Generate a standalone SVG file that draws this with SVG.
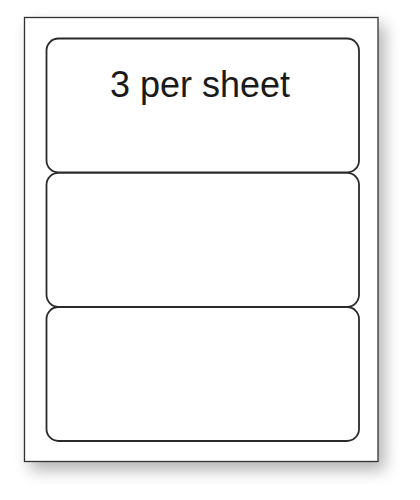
<svg xmlns="http://www.w3.org/2000/svg" width="420" height="500" viewBox="0 0 420 500">
  <defs>
    <filter id="shadow" x="-10%" y="-10%" width="130%" height="130%">
      <feGaussianBlur in="SourceAlpha" stdDeviation="8"/>
      <feOffset dx="6" dy="8" result="b"/>
      <feComponentTransfer><feFuncA type="linear" slope="0.3"/></feComponentTransfer>
      <feMerge><feMergeNode/><feMergeNode in="SourceGraphic"/></feMerge>
    </filter>
  </defs>
  <style>
    .label { fill: #ffffff; stroke: #2a2a2a; stroke-width: 1.8; }
    .sheet { fill: #ffffff; stroke: #333333; stroke-width: 1.3; }
    .txt { font-family: "Liberation Sans", Arial, sans-serif; font-size: 36px; fill: #1a1a1a; }
  </style>
  <rect width="420" height="500" fill="#ffffff"/>
  <g id="sheet">
    <rect class="sheet" x="24.5" y="17.5" width="353.5" height="444" filter="url(#shadow)"/>
  </g>
  <g id="label1">
    <rect class="label" x="46.5" y="38.5" width="312.5" height="134" rx="12" ry="12"/>
    <text class="txt" x="200" y="97" text-anchor="middle">3 per sheet</text>
  </g>
  <g id="label2">
    <rect class="label" x="46.5" y="172.8" width="312.5" height="134" rx="12" ry="12"/>
  </g>
  <g id="label3">
    <rect class="label" x="46.5" y="307" width="312.5" height="134" rx="12" ry="12"/>
  </g>
  <g id="connectors"/>
</svg>
